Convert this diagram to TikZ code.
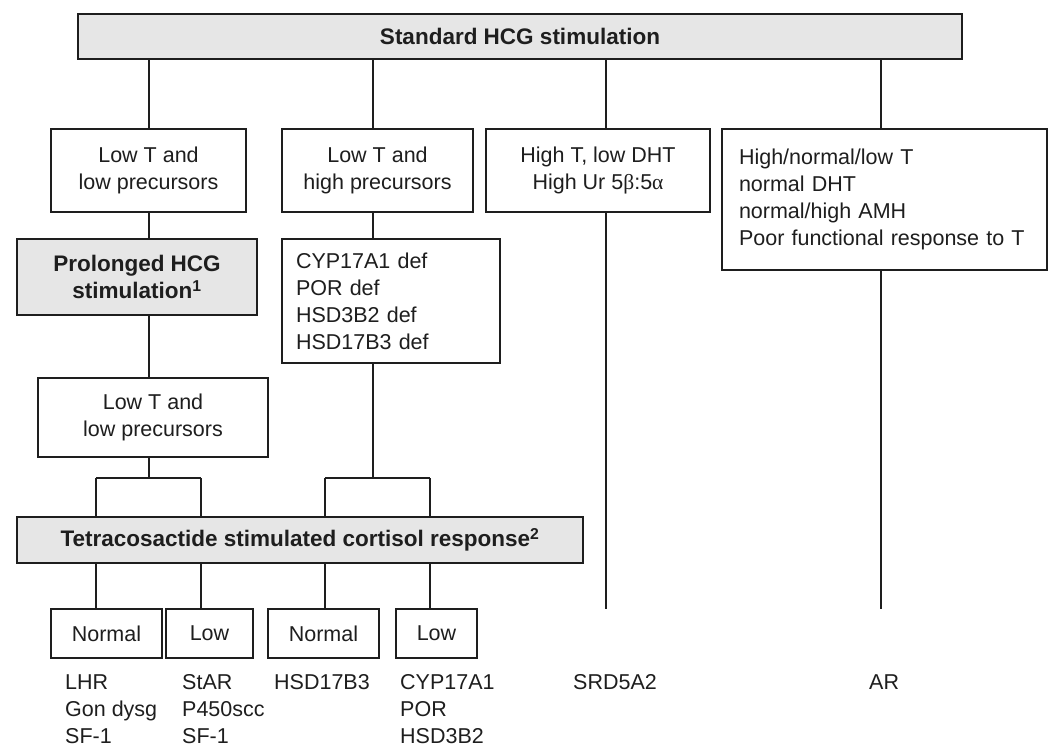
\documentclass[tikz,border=0pt]{standalone}
\usepackage{fontspec}
\setmainfont{Liberation Sans}
\newfontfamily\greekfont{Liberation Serif}
\usepackage{tikz}
\usetikzlibrary{positioning}
\definecolor{boxgray}{RGB}{230,230,230}
\definecolor{ink}{RGB}{30,30,30}

\begin{document}
\begin{tikzpicture}
    [
    x=1pt, y=-1pt,
    every node/.style={font=\fontsize{21.5}{27}\selectfont, text=ink},
    box/.style={rectangle,draw=ink,line width=1.2pt,fill=white,inner sep=0pt,align=center},
    grey/.style={box,fill=boxgray,font=\fontsize{22.5}{27}\selectfont\bfseries},
    listbox/.style={box,align=left,inner xsep=#1},
    gene/.style={anchor=north west,inner sep=0pt,align=left},
    link/.style={draw=ink,line width=1.2pt},
    ]
    \useasboundingbox (0,0) rectangle (1054,750);

    \node (hcg) at (520,36.5) [grey, minimum width=884pt, minimum height=45pt] {Standard HCG stimulation};

    \node (lowlow) at (148.5,170.5) [box, minimum width=195pt, minimum height=83pt] {Low T and\\low precursors};
    \node (lowhigh) at (377.5,170.5) [box, minimum width=191pt, minimum height=83pt] {Low T and\\high precursors};
    \node (hight) at (598,170.5) [box, minimum width=224pt, minimum height=83pt] {High T, low DHT\\High Ur 5{\greekfont β}:5{\greekfont α}};
    \node (mixt) at (884.5,199.5) [listbox=17pt, text width=291pt, minimum height=141pt] {High/normal/low T\\normal DHT\\normal/high AMH\\Poor functional response to T};

    \node (prol) at (137,277) [grey, minimum width=240pt, minimum height=76pt] {Prolonged HCG\\stimulation\textsuperscript{1}};
    \node (cyp) at (391,301) [listbox=14pt, text width=190pt, minimum height=124pt] {CYP17A1 def\\POR def\\HSD3B2 def\\HSD17B3 def};
    \node (lowlow2) at (153,417.5) [box, minimum width=230pt, minimum height=79pt] {Low T and\\low precursors};

    \node (tetra) at (300,540) [grey, minimum width=566pt, minimum height=46pt] {Tetracosactide stimulated cortisol response\textsuperscript{2}};

    \node (norml) at (106.5,633.5) [box, minimum width=111pt, minimum height=49pt] {Normal};
    \node (lowl) at (209.5,633.5) [box, minimum width=87pt, minimum height=49pt] {Low};
    \node (normr) at (323.5,633.5) [box, minimum width=111pt, minimum height=49pt] {Normal};
    \node (lowr) at (436.5,633.5) [box, minimum width=81pt, minimum height=49pt] {Low};

    \node (gnorml) at (65,674) [gene] {LHR\\Gon dysg\\SF-1};
    \node (glowl) at (182,674) [gene] {StAR\\P450scc\\SF-1};
    \node (gnormr) at (274,674) [gene] {HSD17B3};
    \node (glowr) at (400,674) [gene] {CYP17A1\\POR\\HSD3B2};
    \node (gsrd) at (573,674) [gene] {SRD5A2};
    \node (gar) at (869,674) [gene] {AR};

    % ends of the two long lines
    \coordinate (srdend) at (606,609);
    \coordinate (arend) at (881,609);
    % brackets above the cortisol box
    \coordinate (jl) at (149,478);
    \coordinate (jl1) at (96,478);
    \coordinate (jl2) at (201,478);
    \coordinate (jr) at (373,478);
    \coordinate (jr1) at (325,478);
    \coordinate (jr2) at (430,478);

    \draw [link] (hcg.south -| jl) to (jl |- lowlow.north);
    \draw [link] (hcg.south -| jr) to (jr |- lowhigh.north);
    \draw [link] (hcg.south -| srdend) to (srdend |- hight.north);
    \draw [link] (hcg.south -| arend) to (arend |- mixt.north);

    \draw [link] (jl |- lowlow.south) to (jl |- prol.north);
    \draw [link] (jl |- prol.south) to (jl |- lowlow2.north);
    \draw [link] (jl |- lowlow2.south) to (jl);
    \draw [link] (jr |- lowhigh.south) to (jr |- cyp.north);
    \draw [link] (jr |- cyp.south) to (jr);
    \draw [link] (jl1) to (jl2);
    \draw [link] (jr1) to (jr2);

    \foreach \c/\b in {jl1/norml, jl2/lowl, jr1/normr, jr2/lowr}
      {
      \draw [link] (\c) to (\c |- tetra.north);
      \draw [link] (\c |- tetra.south) to (\c |- \b.north);
      }

    \draw [link] (srdend |- hight.south) to (srdend);
    \draw [link] (arend |- mixt.south) to (arend);
  \end{tikzpicture}
\end{document}
